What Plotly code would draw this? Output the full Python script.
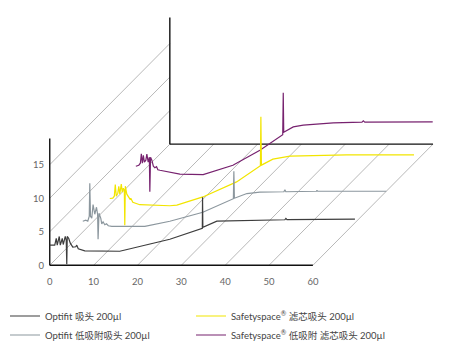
import plotly.graph_objects as go

# ---------------- data ----------------
x_ticks = [0, 10, 20, 30, 40, 50, 60]
y_ticks = [0, 5, 10, 15]
wall_height = 18.9          # mAU height of the side walls
# oblique projection: full depth shifts a point by these axis units
depth_dx = 27.38
depth_dy = 18.06

names = ["Optifit 吸头 200µl", "Safetyspace<sup>®</sup> 滤芯吸头 200µl",
         "Optifit 低吸附吸头 200µl", "Safetyspace<sup>®</sup> 低吸附 滤芯吸头 200µl"]
colors = ["#3d3d3d", "#f2e500", "#8c979e", "#77226f"]
depths = [0.0, 0.5, 0.275, 0.717]

black_t = [0, 1.14, 1.48, 1.71, 2.17, 2.40, 2.85, 3.08, 3.54, 3.76, 3.88, 3.99, 4.33, 4.68,
           5.25, 5.93, 6.16, 6.50, 7.99, 15.97, 27.38, 34.79, 34.84, 34.91, 38.1, 53.6,
           53.84, 54.1, 69.59]
black_mau = [3.0, 3.0, 4.0, 3.0, 4.3, 3.0, 4.0, 3.1, 4.3, 3.7, 0.15, 4.3, 4.0, 3.3,
             2.7, 2.76, 3.0, 2.46, 2.16, 2.09, 3.88, 5.52, 10.15, 5.67, 6.57, 6.79,
             7.0, 6.8, 6.87]

yellow_t = [0, 0.68, 1.03, 1.25, 1.48, 1.83, 2.05, 2.28, 2.62, 2.85, 3.08, 3.31, 3.42,
            3.54, 3.88, 4.33, 4.68, 4.79, 5.25, 6.84, 13.69, 15.29, 21.22, 28.91, 34.34,
            34.45, 34.57, 37.19, 41.07, 46.32, 54.0, 69.36]
yellow_mau = [0.93, 0.97, 1.27, 2.99, 1.27, 1.72, 2.76, 1.57, 3.06, 1.87, 2.46, 2.16, -3.06,
              2.76, 1.57, 0.97, 0.75, 0.97, 0.37, 0.0, -0.15, -0.07, 1.16, 3.40, 5.82,
              13.1, 5.90, 6.79, 7.24, 7.31, 7.43, 7.43]

gray_t = [0, 0.68, 1.14, 1.48, 1.60, 1.76, 2.05, 2.35, 2.74, 3.13, 3.38, 3.49, 3.70, 4.11,
          4.33, 4.63, 5.02, 5.41, 5.82, 6.62, 14.15, 19.85, 27.38, 34.34, 34.45, 34.57,
          37.42, 40.38, 45.86, 46.09, 46.3, 53.3, 53.4, 53.55, 69.2]
gray_mau = [1.6, 1.75, 1.6, 2.34, 7.27, 2.34, 2.04, 4.09, 2.64, 3.69, 2.64, -1.09, 2.79, 2.04,
            1.22, 1.52, 1.07, 1.22, 0.93, 0.85, 0.85, 1.60, 2.94, 4.96, 9.06, 5.03,
            5.73, 5.93, 6.0, 6.3, 6.0, 6.07, 6.22, 6.07, 6.07]

purple_t = [0, 0.68, 1.03, 1.25, 1.48, 1.71, 1.94, 2.28, 2.51, 2.81, 3.08, 3.19, 3.35, 3.65,
            3.99, 4.33, 4.72, 5.02, 5.48, 10.04, 15.35, 22.13, 28.29, 33.49, 33.61, 33.72,
            35.89, 38.17, 45.02, 51.56, 51.86, 52.2, 67.69]
purple_mau = [1.82, 1.97, 2.27, 3.69, 2.27, 3.46, 2.42, 2.72, 3.61, 2.42, 3.16, -1.99, 3.16, 2.72,
              1.82, 1.60, 1.75, 1.30, 1.22, 0.63, 0.58, 1.97, 4.21, 6.52, 12.76, 6.90,
              7.69, 7.94, 8.28, 8.39, 8.58, 8.39, 8.43]

series_t = [black_t, yellow_t, gray_t, purple_t]
series_mau = [black_mau, yellow_mau, gray_mau, purple_mau]

x_title = "保留时间 (min)"
y_title = "mAU"

# ---------------- figure ----------------
FONT = "Lato, 'Noto Sans CJK SC', sans-serif"
GRID = "#b0b0b0"
FRAME = "#111111"


def project(t, v, d):
    return t + d * depth_dx, v + d * depth_dy


fig = go.Figure()

# which legend column each series sits in
legend_of = ["legend", "legend2", "legend", "legend2"]

# draw back-to-front
draw_order = [3, 1, 2, 0]
for i in draw_order:
    xs, ys = [], []
    for t, v in zip(series_t[i], series_mau[i]):
        px, py = project(t, v, depths[i])
        xs.append(px)
        ys.append(py)
    fig.add_trace(go.Scatter(
        x=xs, y=ys, mode="lines", name=names[i],
        line=dict(color=colors[i], width=1.2),
        legend=legend_of[i], legendrank=i + 1, hoverinfo="skip"))

shapes = []


def seg(x0, y0, x1, y1, color, width):
    shapes.append(dict(type="line", xref="x", yref="y", x0=x0, y0=y0, x1=x1, y1=y1,
                       line=dict(color=color, width=width), layer="below"))


# floor depth lines at x ticks
for t in x_ticks:
    x0, y0 = project(t, 0, 0)
    x1, y1 = project(t, 0, 1)
    seg(x0, y0, x1, y1, GRID, 0.9)
# left wall lines at y ticks
for v in y_ticks[1:]:
    x0, y0 = project(0, v, 0)
    x1, y1 = project(0, v, 1)
    seg(x0, y0, x1, y1, GRID, 0.9)

xmax = x_ticks[-1]
# front frame
seg(0, 0, xmax, 0, FRAME, 1.4)
seg(0, 0, 0, wall_height, FRAME, 1.4)
# back frame
bx, by = project(0, 0, 1)
ex, ey = project(xmax, 0, 1)
seg(bx, by, ex, ey, FRAME, 1.4)
tx, ty = project(0, wall_height, 1)
seg(bx, by, tx, ty, FRAME, 1.4)

# pixel geometry
W, H = 461, 355
x_scale = 4.383   # px per minute
y_scale = 6.70    # px per mAU
origin_px = (50, 265)
x_lo, y_lo = -0.4, -1.0
plot_right = 450
left_margin = origin_px[0] + x_lo * x_scale
bottom_edge = origin_px[1] - y_lo * y_scale
x_hi = (plot_right - origin_px[0]) / x_scale
y_hi = origin_px[1] / y_scale

annotations = [
    dict(text=y_title, x=(22 - origin_px[0]) / x_scale, y=(origin_px[1] - 201.5) / y_scale,
         xref="x", yref="y", showarrow=False, textangle=-90,
         font=dict(family=FONT, size=9.5, color="#555555")),
    dict(text=x_title, x=(160 - origin_px[0]) / x_scale, y=(origin_px[1] - 301.5) / y_scale,
         xref="x", yref="y", showarrow=False,
         font=dict(family=FONT, size=9.5, color="#444444")),
]

legend_style = dict(orientation="v", xref="container", yref="container",
                    xanchor="left", yanchor="top",
                    font=dict(family=FONT, size=9.5, color="#444444"),
                    bgcolor="rgba(0,0,0,0)", traceorder="normal",
                    tracegroupgap=0)

fig.update_layout(
    width=W, height=H,
    margin=dict(l=left_margin, r=W - plot_right, t=0, b=H - bottom_edge, pad=0,
                autoexpand=False),
    paper_bgcolor="white", plot_bgcolor="white",
    shapes=shapes, annotations=annotations,
    font=dict(family=FONT, size=9.5, color="#555555"),
    xaxis=dict(range=[x_lo, x_hi], tickvals=x_ticks, ticktext=[str(v) for v in x_ticks],
               showgrid=False, zeroline=False, showline=False, ticks="",
               automargin=False,
               tickfont=dict(size=9.5, color="#666666"), ticklabelstandoff=2,
               fixedrange=True),
    yaxis=dict(range=[y_lo, y_hi], tickvals=y_ticks, ticktext=[str(v) for v in y_ticks],
               showgrid=False, zeroline=False, showline=False, ticks="",
               automargin=False,
               tickfont=dict(size=9.5, color="#666666"), ticklabelstandoff=3,
               fixedrange=True),
    showlegend=True,
    legend=dict(legend_style, x=5 / W, y=1 - 301.5 / H),
    legend2=dict(legend_style, x=191 / W, y=1 - 301.5 / H),
    hovermode=False,
)

fig.write_html("out.html", config={"displayModeBar": False},
               post_script="document.body.style.margin='0';")
